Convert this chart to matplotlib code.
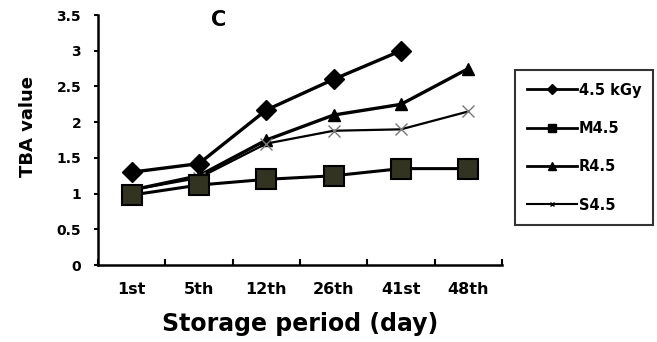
import matplotlib
matplotlib.use("Agg")
import matplotlib.pyplot as plt
from matplotlib.lines import Line2D
import numpy as np

plt.rcParams['font.family'] = ['DejaVu Sans']
plt.rcParams['font.weight'] = 'bold'

days = ["1st", "5th", "12th", "26th", "41st", "48th"]
kgy45 = [1.30, 1.42, 2.17, 2.60, 3.00]
m45 = [0.98, 1.12, 1.20, 1.25, 1.35, 1.35]
r45 = [1.05, 1.25, 1.75, 2.10, 2.25, 2.75]
s45 = [1.05, 1.22, 1.70, 1.88, 1.90, 2.15]
series_names = ["4.5 kGy", "M4.5", "R4.5", "S4.5"]

fig = plt.figure(figsize=(6.57, 3.42), dpi=100)
ax = fig.add_axes([0.149, 0.225, 0.615, 0.731])

x = np.arange(len(days))
ax.plot(x[:len(kgy45)], kgy45, color='black', lw=2.4, marker='D', ms=10, mfc='black', mec='black', zorder=4)
ax.plot(x, r45, color='black', lw=2.4, marker='^', ms=8, mfc='black', mec='black', zorder=3)
ax.plot(x, s45, color='black', lw=1.6, marker='x', ms=9, mew=1.0, mec='#777777', zorder=3)
ax.plot(x, m45, color='black', lw=2.2, marker='s', ms=14, mfc='#333322', mec='black', mew=1.5, zorder=5)

ax.set_xlim(-0.5, 5.5)
ax.set_ylim(0, 3.5)
ax.set_yticks([0, 0.5, 1, 1.5, 2, 2.5, 3, 3.5])
ax.set_yticklabels(["0", "0.5", "1", "1.5", "2", "2.5", "3", "3.5"], fontsize=10, fontweight='bold')
ax.set_xticks(x)
ax.set_xticklabels(days, fontsize=11.5, fontweight='bold')
ax.tick_params(axis='x', length=0, pad=12)
ax.set_xticks(np.arange(-0.5, 5.6, 1), minor=True)
ax.tick_params(axis='x', which='minor', direction='in', length=4, width=1.5)
ax.tick_params(axis='y', direction='out', length=3, width=1.5, pad=9)
for s in ['top', 'right']:
    ax.spines[s].set_visible(False)
for s in ['left', 'bottom']:
    ax.spines[s].set_linewidth(1.8)

ax.set_ylabel("TBA value", fontsize=13, fontweight='bold')
ax.yaxis.set_label_coords(-0.15, 0.556)
ax.set_xlabel("Storage period (day)", fontsize=17, fontweight='bold', labelpad=11)
ax.text(1.3, 3.43, "C", fontsize=15, fontweight='bold', ha='center', va='center')

handles = [
    Line2D([], [], color='black', lw=2, marker='D', ms=5),
    Line2D([], [], color='black', lw=2, marker='s', ms=6),
    Line2D([], [], color='black', lw=2, marker='^', ms=6),
    Line2D([], [], color='black', lw=1.5, marker='x', ms=3),
]
leg = fig.legend(handles, series_names, loc='upper left', bbox_to_anchor=(0.784, 0.795),
                 frameon=True, fancybox=False, edgecolor='black',
                 prop={'weight': 'bold', 'size': 10.5}, labelspacing=1.6, handlelength=3.4,
                 handletextpad=0.1, borderpad=0.85, borderaxespad=0)
leg.get_frame().set_linewidth(1.5)

fig.savefig("out.png", dpi=100)
